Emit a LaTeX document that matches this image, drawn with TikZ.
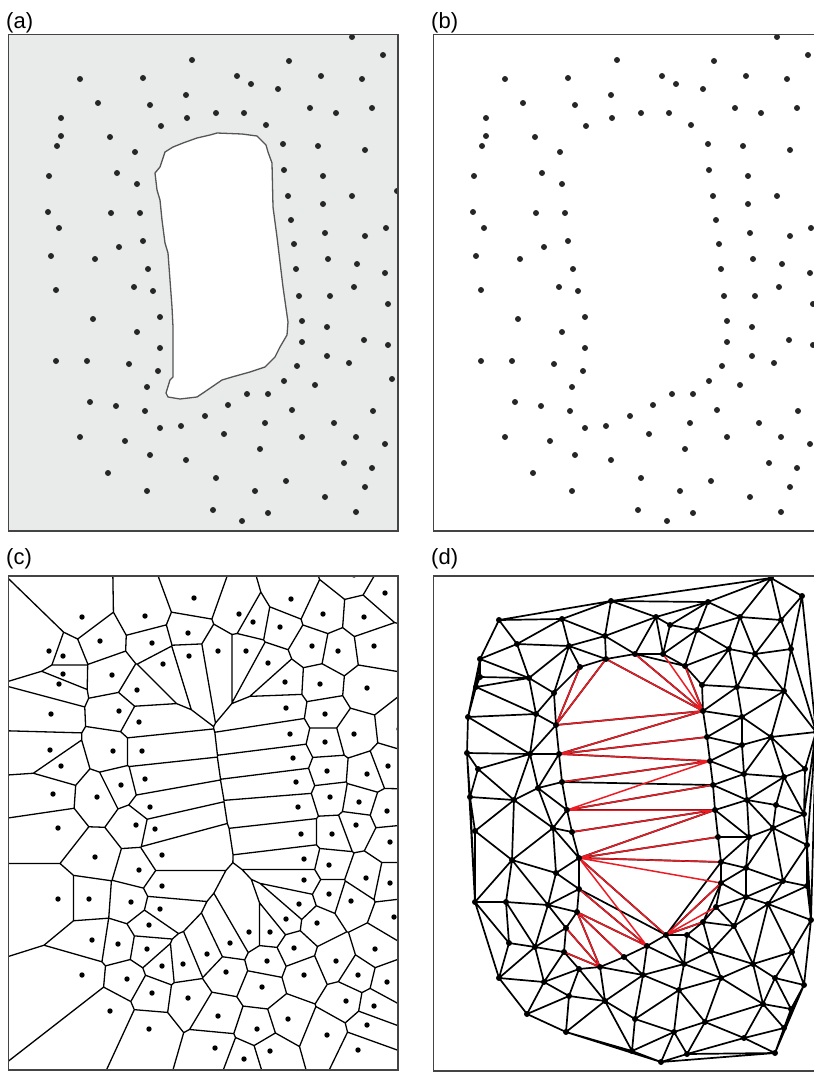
\documentclass[tikz,border=0pt]{standalone}
\usepackage{fontspec}
\setmainfont{Liberation Sans}
\definecolor{panelgray}{RGB}{233,235,235}
\definecolor{framegray}{RGB}{68,68,68}
\definecolor{dotgray}{RGB}{38,38,38}
\definecolor{holegray}{RGB}{85,85,85}
\definecolor{edgered}{RGB}{236,28,36}

\newcount\vdn \newcount\vdi \newcount\vdj \newcount\vdk
\newcount\vdpx \newcount\vdpy \newcount\vdqx \newcount\vdqy
\newcount\vdrx \newcount\vdry \newcount\vddx \newcount\vddy
\newcount\vdA \newcount\vdB \newcount\vdT \newcount\vdlo \newcount\vdhi
\newcount\vdok \newcount\vdcap \newcount\vdRR \newcount\vdoffx \newcount\vdoffy
\newcount\vdmode

\def\vdX#1{\csname vdx\number#1\endcsname}
\def\vdY#1{\csname vdy\number#1\endcsname}
\def\vdabs#1{\ifnum#1<0 -\fi#1}

\def\vdaddpt#1#2{%
  \global\advance\vdn by 1\relax
  \expandafter\xdef\csname vdx\number\vdn\endcsname{\the\numexpr#1+\vdoffx\relax}%
  \expandafter\xdef\csname vdy\number\vdn\endcsname{\the\numexpr#2+\vdoffy\relax}}

% point set, in the coordinates of panel (b)
\def\vdbase{%
\vdP{505}{79}\vdP{568}{78}\vdP{617}{60}\vdP{611}{95}\vdP{523}{103}%
\vdP{575}{105}\vdP{486}{118}\vdP{612}{118}\vdP{586}{126}\vdP{486}{136}%
\vdP{535}{137}\vdP{482}{146}\vdP{560}{152}\vdP{474}{176}\vdP{542}{173}%
\vdP{562}{184}\vdP{473}{212}\vdP{536}{213}\vdP{565}{213}\vdP{484}{228}%
\vdP{568}{241}\vdP{544}{247}\vdP{476}{256}\vdP{520}{259}\vdP{573}{269}%
\vdP{777}{37}\vdP{808}{55}\vdP{714}{61}\vdP{662}{76}\vdP{746}{76}%
\vdP{676}{84}\vdP{787}{79}\vdP{703}{89}\vdP{641}{113}\vdP{669}{113}%
\vdP{735}{108}\vdP{761}{113}\vdP{797}{108}\vdP{691}{125}\vdP{708}{144}%
\vdP{743}{146}\vdP{790}{150}\vdP{709}{170}\vdP{748}{176}\vdP{713}{196}%
\vdP{748}{204}\vdP{777}{196}\vdP{716}{220}\vdP{750}{233}\vdP{790}{236}%
\vdP{811}{228}\vdP{719}{244}\vdP{753}{259}\vdP{782}{264}\vdP{810}{273}%
\vdP{721}{269}\vdP{481}{290}\vdP{559}{287}\vdP{578}{291}\vdP{518}{319}%
\vdP{585}{317}\vdP{562}{332}\vdP{585}{348}\vdP{481}{361}\vdP{512}{361}%
\vdP{554}{364}\vdP{583}{371}\vdP{572}{387}\vdP{515}{402}\vdP{541}{406}%
\vdP{570}{411}\vdP{585}{428}\vdP{606}{426}\vdP{505}{437}\vdP{550}{441}%
\vdP{575}{455}\vdP{611}{460}\vdP{533}{473}\vdP{572}{491}\vdP{779}{287}%
\vdP{724}{296}\vdP{755}{296}\vdP{813}{304}\vdP{727}{321}\vdP{752}{327}%
\vdP{727}{342}\vdP{789}{340}\vdP{813}{345}\vdP{752}{356}\vdP{774}{363}%
\vdP{722}{366}\vdP{709}{381}\vdP{740}{385}\vdP{672}{394}\vdP{693}{394}%
\vdP{653}{405}\vdP{630}{416}\vdP{717}{410}\vdP{798}{411}\vdP{690}{423}%
\vdP{759}{423}\vdP{649}{434}\vdP{727}{437}\vdP{781}{437}\vdP{810}{444}%
\vdP{685}{449}\vdP{769}{463}\vdP{797}{468}\vdP{641}{478}\vdP{711}{481}%
\vdP{680}{491}\vdP{790}{487}\vdP{750}{497}\vdP{638}{510}\vdP{693}{513}%
\vdP{781}{512}\vdP{667}{521}\vdP{817}{379}\vdP{822}{191}}

\def\vdload#1#2{\global\vdn=0\relax \vdoffx=#1\relax \vdoffy=#2\relax
  \let\vdP\vdaddpt \vdbase}

% Delaunay / Voronoi by testing each pair's bisector against all other points
\def\vdpairs{\vdi=1\relax \vdloopi}
\def\vdloopi{%
  \ifnum\vdi<\vdn\relax
    \vdj=\vdi \advance\vdj by 1\relax
    \vdloopj
    \advance\vdi by 1\relax
    \expandafter\vdloopi
  \fi}
\def\vdloopj{%
  \ifnum\vdj>\vdn\relax\else
    \vdtestpair
    \advance\vdj by 1\relax
    \expandafter\vdloopj
  \fi}
\def\vdtestpair{%
  \vdpx=\vdX\vdi\relax \vdpy=\vdY\vdi\relax
  \vdqx=\vdX\vdj\relax \vdqy=\vdY\vdj\relax
  \vddx=\numexpr\vdqx-\vdpx\relax
  \vddy=\numexpr\vdqy-\vdpy\relax
  \ifnum\numexpr\vddx*\vddx+\vddy*\vddy\relax<\vdRR
    \vdlo=-100000000\relax \vdhi=100000000\relax \vdok=1\relax
    \vdk=1\relax
    \vdloopk
    \ifnum\vdok=1\relax \vdrecord\fi
  \fi}
\def\vdloopk{%
  \ifnum\vdk>\vdn\relax\else
    \vdtestr
    \advance\vdk by 1\relax
    \expandafter\vdloopk
  \fi}
\def\vdtestr{%
  \ifnum\vdk=\vdi\relax\else\ifnum\vdk=\vdj\relax\else
    \vdrx=\vdX\vdk\relax \vdry=\vdY\vdk\relax
    \vdA=\numexpr 2*(\vddx*(\vdry-\vdpy)-\vddy*(\vdrx-\vdpx))\relax
    \vdB=\numexpr (\vdrx-\vdpx)*(\vdrx-\vdqx)+(\vdry-\vdpy)*(\vdry-\vdqy)\relax
    \ifnum\vdA>0\relax
      \vdT=\numexpr\vdB*1000/\vdA\relax
      \ifnum\vdT<\vdhi \vdhi=\vdT\fi
    \else
      \ifnum\vdA<0\relax
        \vdT=\numexpr\vdB*1000/\vdA\relax
        \ifnum\vdT>\vdlo \vdlo=\vdT\fi
      \else
        \ifnum\vdB<0\relax \vdok=0\relax\fi
      \fi
    \fi
    \ifnum\vdlo<\vdhi\relax\else \vdok=0\relax\fi
    \ifnum\vdok=0\relax \vdk=\vdn\relax\fi
  \fi\fi}
\def\vdspx#1{\numexpr(#1)*8192/125\relax sp}
\def\vdspy#1{-\numexpr(#1)*8192/125\relax sp}
\def\vdrecord{%
  \ifcase\vdmode
  \or
    \vdcap=\numexpr 1500000/(\vdabs\vddx+\vdabs\vddy)\relax
    \ifnum\vdlo<-\vdcap \vdlo=-\vdcap\fi
    \ifnum\vdlo>\vdcap \vdlo=\vdcap\fi
    \ifnum\vdhi>\vdcap \vdhi=\vdcap\fi
    \ifnum\vdhi<-\vdcap \vdhi=-\vdcap\fi
    \pgfpathmoveto{\pgfqpoint{\vdspx{500*(\vdpx+\vdqx)-\vdlo*\vddy}}{\vdspy{500*(\vdpy+\vdqy)+\vdlo*\vddx}}}%
    \pgfpathlineto{\pgfqpoint{\vdspx{500*(\vdpx+\vdqx)-\vdhi*\vddy}}{\vdspy{500*(\vdpy+\vdqy)+\vdhi*\vddx}}}%
  \or
    \pgfpathmoveto{\pgfqpoint{\vdpx pt}{-\vdpy pt}}%
    \pgfpathlineto{\pgfqpoint{\vdqx pt}{-\vdqy pt}}%
  \fi}

\def\vddotloop{%
  \ifnum\vdk>\vdn\relax\else
    \pgfpathcircle{\pgfqpoint{\vdX\vdk pt}{-\vdY\vdk pt}}{\vdrad}%
    \advance\vdk by 1\relax
    \expandafter\vddotloop
  \fi}
\def\vddots#1{\def\vdrad{#1}\vdk=1\relax\vddotloop\pgfusepath{fill}}
\def\vdredE#1#2{\pgfpathmoveto{\pgfqpoint{\vdX{#1}pt}{-\vdY{#1}pt}}%
  \pgfpathlineto{\pgfqpoint{\vdX{#2}pt}{-\vdY{#2}pt}}}

\begin{document}
\begin{tikzpicture}[x=1pt,y=-1pt,
  lbl/.style={anchor=base west,inner sep=0pt,font=\fontsize{22}{26}\selectfont},
  panelframe/.style={draw=framegray,line width=1.6pt},
  holeshape/.style={fill=white,draw=holegray,line width=1.3pt,line join=round}]
\useasboundingbox (0,0) rectangle (814,1074);
\node[lbl] (la) at (6,28) {(a)};
\node[lbl] (lb) at (431,28) {(b)};
\node[lbl] (lc) at (6,564) {(c)};
\node[lbl] (ld) at (431,564) {(d)};
% ---------- (a)
\fill[panelgray] (8.5,34.5) rectangle (398,531);
\path[holeshape] (217,133) -- (242,134) -- (257,136) -- (266,145) -- (268,152)
 -- (272,163) -- (273,207) -- (277,237) -- (283,287) -- (288,322) -- (287,335)
 -- (280,347) -- (275,357) -- (265,367) -- (250,372) -- (232,377) -- (222,380)
 -- (203,393) -- (197,397) -- (180,399) -- (168,397) -- (166,393) -- (170,380)
 -- (173,377) -- (173,327) -- (172,307) -- (168,253) -- (165,243) -- (162,220)
 -- (160,200) -- (157,190) -- (155,173) -- (160,167) -- (165,152) -- (173,147)
 -- (183,143) -- (197,138) -- (210,135) -- cycle;
\begin{pgfscope}
  \pgfpathrectangle{\pgfqpoint{8.5pt}{-531pt}}{\pgfqpoint{389.5pt}{496.5pt}}\pgfusepath{clip}
  \vdload{-425}{0}
  \pgfsetfillcolor{dotgray}\vddots{3pt}
\end{pgfscope}
\path[panelframe] (8.5,34.5) rectangle (398,531);
% ---------- (b)
\begin{pgfscope}
  \vdload{0}{0}
  \pgfsetfillcolor{dotgray}\vddots{3pt}
\end{pgfscope}
\path[panelframe] (433.5,34.5) rectangle (830,531);
% ---------- (c)
\begin{pgfscope}
  \pgfpathrectangle{\pgfqpoint{8.5pt}{-1070pt}}{\pgfqpoint{389.5pt}{494pt}}\pgfusepath{clip}
  \vdload{-423}{538}\vdaddpt{472}{113}
  \vdmode=1\relax \vdRR=40000\relax
  \pgfsetlinewidth{1.3pt}\pgfsetstrokecolor{black}\pgfsetroundcap
  \vdpairs\pgfusepath{stroke}
  \pgfsetfillcolor{black}\vddots{2.7pt}
\end{pgfscope}
\path[panelframe] (8.5,576) rectangle (398,1070);
% ---------- (d)
\begin{pgfscope}
  \vdload{-6}{541}
  \vdmode=2\relax \vdRR=40000\relax
  \pgfsetlinewidth{1.7pt}\pgfsetstrokecolor{black}\pgfsetroundcap
  \vdpairs\pgfusepath{stroke}
  \pgfsetstrokecolor{edgered}\pgfsetlinewidth{1.5pt}
  \vdredE{16}{9}\vdredE{16}{8}\vdredE{8}{43}\vdredE{34}{43}\vdredE{35}{43}
  \vdredE{39}{43}\vdredE{16}{43}\vdredE{19}{43}\vdredE{19}{45}\vdredE{19}{48}
  \vdredE{21}{48}\vdredE{25}{48}\vdredE{25}{52}\vdredE{25}{56}\vdredE{59}{56}
  \vdredE{61}{56}\vdredE{61}{81}\vdredE{61}{84}\vdredE{61}{86}\vdredE{86}{94}
  \vdredE{91}{94}\vdredE{92}{94}\vdredE{61}{94}\vdredE{61}{96}\vdredE{63}{96}
  \vdredE{67}{96}\vdredE{67}{97}\vdredE{67}{73}\vdredE{68}{73}\vdredE{71}{73}
  \pgfusepath{stroke}
  \pgfsetfillcolor{black}\vddots{3pt}
\end{pgfscope}
\path[panelframe] (433.5,576) rectangle (830,1071);
\end{tikzpicture}
\end{document}
